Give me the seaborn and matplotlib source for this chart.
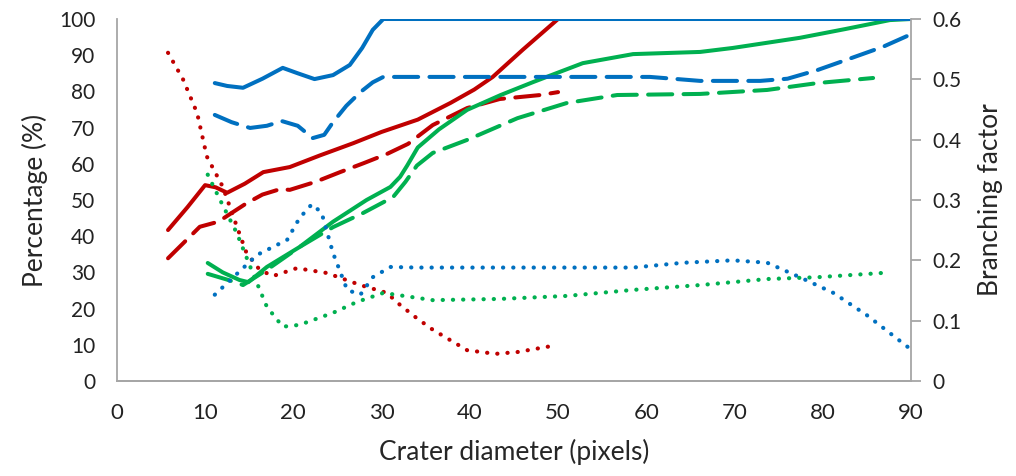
import matplotlib
matplotlib.use("Agg")
import matplotlib.pyplot as plt
import seaborn as sns

# percentage series (left axis)
blue_solid_x = [11.1, 12.5, 14.3, 16.5, 18.8, 20.5, 22.4, 24.5, 26.4, 27.8, 29.0, 30.2, 90.0]
blue_solid_y = [82.3, 81.5, 81.0, 83.5, 86.5, 85.0, 83.4, 84.5, 87.3, 92.0, 97.0, 100.0, 100.0]

blue_dash_x = [11.1, 13.0, 15.1, 17.0, 18.7, 20.5, 22.2, 23.5, 24.5, 26.0, 27.6, 29.0, 30.2, 34.0, 45.0, 60.4, 66.1, 72.9, 76.0, 79.4, 83.0, 86.8, 90.2]
blue_dash_y = [73.5, 71.5, 69.9, 70.5, 71.8, 70.5, 67.1, 68.0, 71.5, 76.0, 79.8, 82.5, 84.0, 84.0, 84.0, 84.0, 82.9, 82.9, 83.5, 85.9, 89.0, 92.3, 96.0]

red_solid_x = [5.8, 8.0, 10.0, 11.2, 12.5, 14.5, 16.6, 19.6, 23.0, 26.8, 30.0, 34.1, 37.8, 40.5, 42.6, 46.0, 50.0]
red_solid_y = [41.7, 48.0, 54.1, 53.5, 52.0, 54.5, 57.7, 59.1, 62.3, 65.7, 68.8, 72.2, 76.8, 80.5, 84.0, 91.5, 100.0]

red_dash_x = [5.8, 7.5, 9.4, 11.5, 13.0, 14.7, 16.5, 18.5, 19.6, 22.5, 25.3, 28.0, 30.6, 33.0, 35.8, 39.7, 43.4, 48.0, 50.0]
red_dash_y = [33.9, 38.0, 42.6, 44.0, 46.4, 49.1, 51.5, 53.0, 52.8, 55.0, 57.7, 60.2, 62.7, 65.5, 70.7, 75.4, 77.9, 79.0, 79.8]

green_solid_x = [10.3, 12.0, 13.9, 14.9, 17.0, 20.7, 24.5, 28.3, 31.0, 32.1, 32.9, 34.1, 36.5, 39.7, 43.5, 47.2, 52.8, 58.5, 66.1, 69.8, 77.4, 82.5, 87.6, 90.0]
green_solid_y = [32.6, 30.0, 27.9, 27.3, 31.5, 37.0, 44.0, 50.0, 53.6, 56.4, 59.5, 64.5, 69.5, 74.9, 79.0, 82.6, 87.8, 90.3, 90.9, 92.0, 94.8, 97.2, 99.7, 100.0]

green_dash_x = [10.3, 12.5, 14.3, 17.0, 20.7, 24.5, 27.9, 31.3, 32.7, 34.0, 35.8, 39.7, 45.4, 51.0, 56.7, 66.1, 73.7, 79.4, 85.7]
green_dash_y = [29.6, 28.0, 26.5, 30.7, 37.0, 42.5, 46.4, 50.8, 55.0, 59.5, 63.0, 66.6, 72.6, 76.8, 79.0, 79.3, 80.4, 82.3, 83.7]

# branching factor series (right axis)
red_dot_x = [5.8, 7.5, 9.1, 10.2, 12.0, 13.6, 14.7, 16.2, 17.7, 20.4, 23.8, 27.6, 30.6, 32.1, 34.0, 35.8, 39.7, 42.9, 45.4, 49.3]
red_dot_y = [0.544, 0.50, 0.444, 0.372, 0.322, 0.256, 0.212, 0.184, 0.174, 0.187, 0.179, 0.159, 0.146, 0.126, 0.104, 0.085, 0.051, 0.045, 0.048, 0.058]

blue_dot_x = [11.1, 13.2, 15.9, 19.3, 20.7, 22.1, 23.2, 24.5, 26.1, 27.6, 29.0, 31.0, 34.0, 45.0, 58.5, 64.2, 69.8, 73.7, 77.4, 81.2, 85.0, 90.1]
blue_dot_y = [0.143, 0.172, 0.209, 0.234, 0.270, 0.293, 0.279, 0.212, 0.151, 0.143, 0.172, 0.189, 0.188, 0.188, 0.188, 0.196, 0.200, 0.196, 0.172, 0.146, 0.109, 0.051]

green_dot_x = [10.3, 11.7, 13.6, 15.4, 17.0, 18.8, 20.7, 24.5, 27.2, 30.2, 33.0, 35.8, 43.4, 51.0, 58.5, 66.1, 73.7, 79.4, 86.7]
green_dot_y = [0.342, 0.300, 0.245, 0.179, 0.123, 0.090, 0.093, 0.113, 0.131, 0.146, 0.140, 0.134, 0.136, 0.141, 0.151, 0.159, 0.169, 0.172, 0.179]

BLUE = "#0070C0"
RED = "#C00000"
GREEN = "#00B050"


def main():
    sns.set_style("white")
    plt.rcParams['font.family'] = ['Lato', 'DejaVu Sans']

    fig = plt.figure(figsize=(10.16, 4.76), dpi=100)
    ax = fig.add_axes([0.115, 0.1996, 0.7817, 0.7605])
    ax2 = ax.twinx()

    lw = 2.9
    dash = (0, (6.0, 2.8))
    dot = (0, (0.05, 2.4))

    sns.lineplot(x=red_solid_x, y=red_solid_y, ax=ax, color=RED, lw=lw, solid_capstyle='round')
    sns.lineplot(x=red_dash_x, y=red_dash_y, ax=ax, color=RED, lw=lw, linestyle=dash, dash_capstyle='round')
    sns.lineplot(x=green_solid_x, y=green_solid_y, ax=ax, color=GREEN, lw=lw, solid_capstyle='round')
    sns.lineplot(x=green_dash_x, y=green_dash_y, ax=ax, color=GREEN, lw=lw, linestyle=dash, dash_capstyle='round')
    sns.lineplot(x=blue_solid_x, y=blue_solid_y, ax=ax, color=BLUE, lw=lw, solid_capstyle='round')
    sns.lineplot(x=blue_dash_x, y=blue_dash_y, ax=ax, color=BLUE, lw=lw, linestyle=dash, dash_capstyle='round')

    sns.lineplot(x=red_dot_x, y=red_dot_y, ax=ax2, color=RED, lw=3.0, linestyle=dot, dash_capstyle='round')
    sns.lineplot(x=blue_dot_x, y=blue_dot_y, ax=ax2, color=BLUE, lw=3.0, linestyle=dot, dash_capstyle='round')
    sns.lineplot(x=green_dot_x, y=green_dot_y, ax=ax2, color=GREEN, lw=3.0, linestyle=dot, dash_capstyle='round')

    ax.set_xlim(0, 90)
    ax.set_ylim(0, 100)
    ax2.set_ylim(0, 0.6)
    ax.set_xticks(range(0, 91, 10))
    ax.set_yticks(range(0, 101, 10))
    ax2.set_yticks([0, 0.1, 0.2, 0.3, 0.4, 0.5, 0.6])
    ax2.set_yticklabels(['0', '0.1', '0.2', '0.3', '0.4', '0.5', '0.6'])

    for a in (ax, ax2):
        a.spines['top'].set_visible(False)
        for s in ('left', 'right', 'bottom'):
            a.spines[s].set_color('#A6A6A6')
            a.spines[s].set_linewidth(1.3)
    ax2.spines['left'].set_visible(False)
    ax.spines['right'].set_visible(False)

    ax.tick_params(axis='y', left=False, labelsize=15, pad=12, colors='#222222')
    ax.tick_params(axis='x', bottom=False, labelsize=16, pad=12, colors='#222222')
    ax2.tick_params(axis='y', right=True, length=7, width=1.3, color='#A6A6A6',
                    labelsize=15, pad=8, labelcolor='#222222')

    ax.set_xlabel('Crater diameter (pixels)', fontsize=19, labelpad=12)
    ax.set_ylabel('Percentage (%)', fontsize=19, labelpad=8)
    ax2.set_ylabel('Branching factor', fontsize=19, labelpad=12)

    fig.savefig("out.png", dpi=100)
    plt.close(fig)


if __name__ == "__main__":
    main()
